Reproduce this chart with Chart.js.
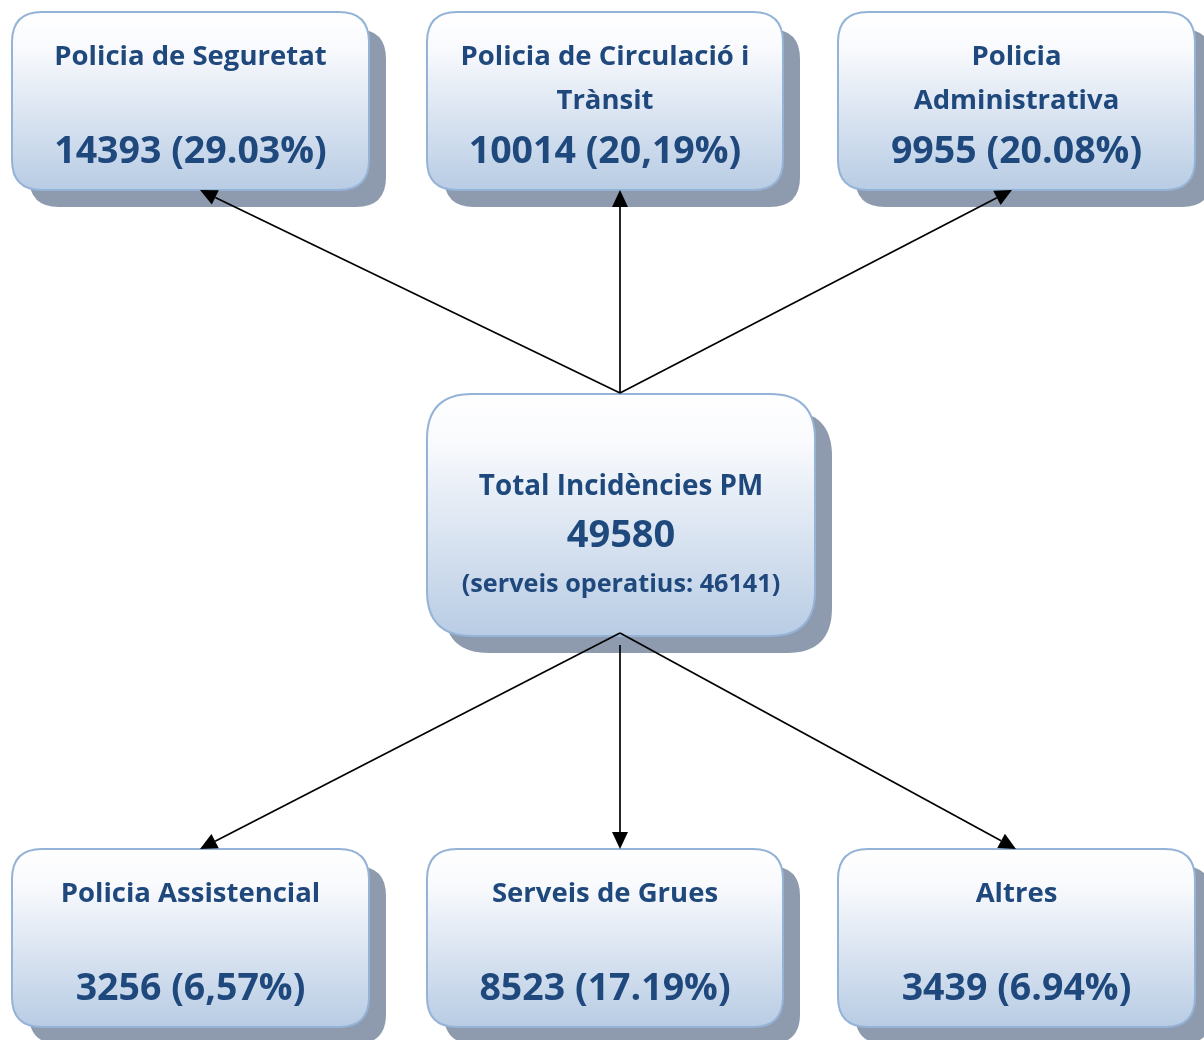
<!DOCTYPE html>
<html>
<head>
<meta charset="utf-8">
<script src="https://cdn.jsdelivr.net/npm/chart.js@4"></script>
<style>
  html, body { margin: 0; padding: 0; background: #ffffff; }
  #wrap { width: 1204px; height: 1040px; }
</style>
</head>
<body>
<div id="wrap"><canvas id="orgChart" width="1204" height="1040"></canvas></div>
<script>
// Dades
const nodeTitles = [
  ["Policia de Seguretat"],
  ["Policia de Circulació i", "Trànsit"],
  ["Policia", "Administrativa"],
  ["Policia Assistencial"],
  ["Serveis de Grues"],
  ["Altres"],
];
const nodeCounts = [14393, 10014, 9955, 3256, 8523, 3439];
const nodeShares = ["29.03%", "20,19%", "20.08%", "6,57%", "17.19%", "6.94%"];
const totalTitle = "Total Incidències PM";
const totalCount = 49580;
const operativeLabel = "serveis operatius";
const operativeCount = 46141;

// Disposició dels requadres (unitats de l'eix)
const boxes = [
  [12, 12, 369, 190],
  [427, 12, 783, 190],
  [838, 12, 1195, 190],
  [12, 849, 369, 1027],
  [427, 849, 783, 1027],
  [838, 849, 1195, 1027],
];
const centerBox = [427, 394, 815, 636];
const arrowTips = [
  [200, 190], [620, 190], [1012, 190],
  [200, 849], [620, 849], [1016, 849],
];
const arrowStarts = [
  [620, 393], [620, 393], [620, 393],
  [620, 633], [620, 645], [620, 633],
];

const textColor = "#1f497d";
const fontFamily = "'Open Sans', 'Noto Sans', sans-serif";

function roundRect(ctx, x0, y0, x1, y1, r) {
  ctx.beginPath();
  ctx.moveTo(x0 + r, y0);
  ctx.lineTo(x1 - r, y0);
  ctx.quadraticCurveTo(x1, y0, x1, y0 + r);
  ctx.lineTo(x1, y1 - r);
  ctx.quadraticCurveTo(x1, y1, x1 - r, y1);
  ctx.lineTo(x0 + r, y1);
  ctx.quadraticCurveTo(x0, y1, x0, y1 - r);
  ctx.lineTo(x0, y0 + r);
  ctx.quadraticCurveTo(x0, y0, x0 + r, y0);
  ctx.closePath();
}

function drawBox(ctx, b, r) {
  // ombra
  roundRect(ctx, b[0] + 17, b[1] + 17, b[2] + 17, b[3] + 17, r);
  ctx.fillStyle = "#8e9bae";
  ctx.fill();
  // requadre
  const g = ctx.createLinearGradient(0, b[1], 0, b[3]);
  g.addColorStop(0, "#ffffff");
  g.addColorStop(0.2, "#f9fafd");
  g.addColorStop(1, "#b8cce4");
  roundRect(ctx, b[0], b[1], b[2], b[3], r);
  ctx.fillStyle = g;
  ctx.fill();
  ctx.lineWidth = 2;
  ctx.strokeStyle = "#95b3d7";
  ctx.stroke();
}

function drawArrow(ctx, x0, y0, x1, y1) {
  const a = Math.atan2(y1 - y0, x1 - x0);
  const len = 17, half = 8;
  const bx = x1 - len * Math.cos(a), by = y1 - len * Math.sin(a);
  ctx.beginPath();
  ctx.moveTo(x0, y0);
  ctx.lineTo(bx, by);
  ctx.lineWidth = 1.7;
  ctx.strokeStyle = "#000000";
  ctx.stroke();
  ctx.beginPath();
  ctx.moveTo(x1, y1);
  ctx.lineTo(bx + half * Math.sin(a), by - half * Math.cos(a));
  ctx.lineTo(bx - half * Math.sin(a), by + half * Math.cos(a));
  ctx.closePath();
  ctx.fillStyle = "#000000";
  ctx.fill();
}

const diagramPlugin = {
  id: "diagram",
  afterDatasetsDraw(chart) {
    const ctx = chart.ctx;
    const xs = chart.scales.x, ys = chart.scales.y;
    const px = (v) => xs.getPixelForValue(v);
    const py = (v) => ys.getPixelForValue(v);
    ctx.save();
    ctx.textAlign = "center";
    ctx.textBaseline = "middle";

    boxes.forEach((b, i) => {
      const pb = [px(b[0]), py(b[1]), px(b[2]), py(b[3])];
      drawBox(ctx, pb, 30);
      const cx = (pb[0] + pb[2]) / 2;
      ctx.fillStyle = textColor;
      ctx.font = "bold 27.5px " + fontFamily;
      nodeTitles[i].forEach((line, k) => {
        ctx.fillText(line, cx, pb[1] + 45 + k * 44);
      });
      ctx.font = "bold 37.5px " + fontFamily;
      ctx.fillText(nodeCounts[i] + " (" + nodeShares[i] + ")", cx, pb[1] + 140);
    });

    const cb = [px(centerBox[0]), py(centerBox[1]), px(centerBox[2]), py(centerBox[3])];
    drawBox(ctx, cb, 45);
    const ccx = (cb[0] + cb[2]) / 2;
    ctx.fillStyle = textColor;
    ctx.font = "bold 27.8px " + fontFamily;
    ctx.fillText(totalTitle, ccx, cb[1] + 93);
    ctx.font = "bold 38px " + fontFamily;
    ctx.fillText(String(totalCount), ccx, cb[1] + 142);
    ctx.font = "bold 25.2px " + fontFamily;
    ctx.fillText("(" + operativeLabel + ": " + operativeCount + ")", ccx, cb[1] + 191);

    // fletxes per sobre de les ombres
    arrowTips.forEach((t, i) => {
      const s = arrowStarts[i];
      drawArrow(ctx, px(s[0]), py(s[1]), px(t[0]), py(t[1]));
    });

    ctx.restore();
  },
};

const nodePoints = boxes.map((b) => ({ x: (b[0] + b[2]) / 2, y: (b[1] + b[3]) / 2 }));
nodePoints.push({ x: (centerBox[0] + centerBox[2]) / 2, y: (centerBox[1] + centerBox[3]) / 2 });

new Chart(document.getElementById("orgChart").getContext("2d"), {
  type: "scatter",
  data: {
    datasets: [
      {
        label: "Incidències",
        data: nodePoints,
        pointRadius: 0,
        pointHoverRadius: 0,
      },
    ],
  },
  options: {
    responsive: false,
    animation: false,
    layout: { padding: 0 },
    plugins: {
      legend: { display: false },
      tooltip: { enabled: false },
    },
    scales: {
      x: { type: "linear", min: 0, max: 1204, display: false },
      y: { type: "linear", min: 0, max: 1040, reverse: true, display: false },
    },
  },
  plugins: [diagramPlugin],
});
</script>
</body>
</html>
